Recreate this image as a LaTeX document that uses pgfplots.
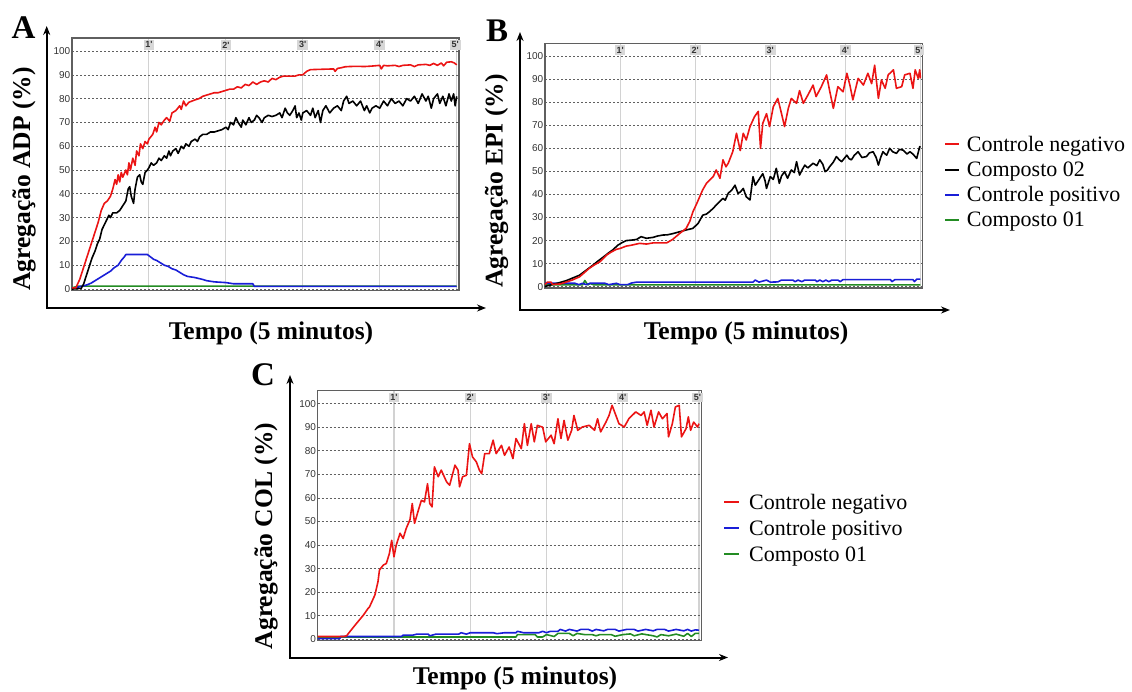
\documentclass[border=0pt]{standalone}
\usepackage{fontspec}
\setmainfont{Liberation Serif}
\newfontfamily\ticksans{Liberation Sans}
\usepackage{pgfplots}
\pgfplotsset{compat=1.18}
\usetikzlibrary{arrows.meta}

\definecolor{cred}{RGB}{235,20,20}
\definecolor{cblue}{RGB}{25,30,215}
\definecolor{cgreen}{RGB}{35,140,35}
\definecolor{cframe}{RGB}{95,95,95}
\definecolor{cbox}{RGB}{215,215,215}

\pgfplotsset{panel/.style={
  scale only axis, anchor=south west,
  xmin=0, xmax=5.03, ymin=-0.5, ymax=105.5,
  xtick={1,2,3,4,5}, xticklabels={}, ytick={0,10,...,100},
  major tick length=0pt,
  xmajorgrids, ymajorgrids,
  x grid style={gray!35, line width=1.1pt},
  y grid style={gray!75!black, line width=0.7pt, dash pattern=on 2pt off 2pt},
  axis line style={cframe, line width=1.3pt},
  yticklabel style={font=\ticksans\fontsize{10}{10}\selectfont, text=black!80, inner sep=1.5pt},
  /pgf/number format/assume math mode=true,
  clip=false,
  every axis plot/.append style={line width=1.6pt, line join=round, mark=none},
}}
\tikzset{minbox/.style={fill=cbox, inner sep=1.8pt, font=\ticksans\bfseries\fontsize{9}{9}\selectfont, text=black!80}}
\newcommand{\minlabels}{%
  \node[minbox] at (axis cs:1,102.6) {1'};
  \node[minbox] at (axis cs:2,102.6) {2'};
  \node[minbox] at (axis cs:3,102.6) {3'};
  \node[minbox] at (axis cs:4,102.6) {4'};
  \node[minbox] at (axis cs:4.98,102.6) {5'};
}

\begin{document}
\begin{tikzpicture}
\useasboundingbox (0,0) rectangle (1132pt,691pt);

% ---------------- Panel A ----------------
\begin{axis}[panel, at={(72pt,400.8pt)}, width=387pt, height=252.2pt]
\addplot[cgreen] coordinates {(0,0.5) (0.08,1.2) (5.0,1.2)};
\addplot[cblue] coordinates {(0,0.3) (0.05,0.5) (0.1,1) (0.15,1.3) (0.2,1.8) (0.25,2.5) (0.3,3.5) (0.35,4.5) (0.4,5.5) (0.45,6.5) (0.5,7.5) (0.55,9) (0.6,10) (0.64,12) (0.68,13.5) (0.7,14.5) (0.98,14.5) (1.02,13.5) (1.06,12.5) (1.1,12) (1.15,11) (1.2,10) (1.25,9.5) (1.3,8.5) (1.35,8) (1.4,7) (1.45,6) (1.5,5.3) (1.6,4.8) (1.7,4) (1.75,3.5) (1.85,3) (2.0,2.7) (2.1,2.2) (2.35,2.2) (2.37,1.1) (5.0,1.1)};
\addplot[black] coordinates {(0,0) (0.12,0.3) (0.15,2) (0.18,5) (0.22,9) (0.26,13) (0.3,16) (0.33,19) (0.36,21) (0.39,25) (0.42,27) (0.45,29) (0.48,31) (0.5,30) (0.53,32) (0.58,32) (0.62,33) (0.66,35) (0.7,37) (0.73,42) (0.75,43) (0.77,39) (0.8,36) (0.82,42) (0.85,47) (0.88,48) (0.9,45) (0.92,44) (0.95,49) (0.98,50) (1.0,51) (1.03,53) (1.06,52) (1.1,53) (1.13,55) (1.16,54) (1.2,56) (1.23,55) (1.26,58) (1.28,56) (1.31,58) (1.35,59) (1.38,57) (1.42,60) (1.45,59) (1.48,61) (1.52,60) (1.55,62) (1.6,63) (1.63,62) (1.66,64) (1.7,65) (1.75,65) (1.8,66) (1.85,66) (1.9,66.5) (1.95,67) (2.0,68) (2.03,67) (2.06,70) (2.1,69) (2.13,72) (2.16,70) (2.2,68) (2.22,71) (2.26,69) (2.3,72) (2.33,70) (2.37,71) (2.4,73) (2.43,72) (2.47,70) (2.5,72) (2.55,73) (2.6,72.5) (2.65,73) (2.7,74) (2.73,72) (2.77,76) (2.8,74) (2.83,73) (2.87,75) (2.9,77) (2.92,72) (2.95,74) (2.98,71) (3.0,74) (3.05,75) (3.1,73) (3.13,76) (3.16,72) (3.2,75) (3.23,70) (3.26,75) (3.3,77) (3.35,74) (3.4,76) (3.45,77) (3.5,75) (3.53,79) (3.57,81) (3.6,78) (3.65,79) (3.7,77) (3.75,79) (3.8,75) (3.83,77) (3.87,74) (3.9,76) (3.95,77) (4.0,76) (4.05,79) (4.1,77) (4.15,80) (4.2,78) (4.25,79) (4.3,77) (4.35,80) (4.4,79) (4.45,81) (4.5,78) (4.55,82) (4.6,79) (4.63,81) (4.67,76) (4.7,80) (4.75,82) (4.78,78) (4.82,81) (4.86,77) (4.9,82) (4.93,79) (4.96,82) (4.98,77) (5.0,81)};
\addplot[cred] coordinates {(0,0.5) (0.05,0.5) (0.1,4) (0.15,9) (0.2,14) (0.25,19) (0.3,24) (0.34,28) (0.38,33) (0.42,36) (0.46,37) (0.5,39) (0.53,42) (0.56,46) (0.58,44) (0.6,48) (0.62,45) (0.64,49) (0.66,47) (0.7,50) (0.72,48) (0.74,53) (0.76,50) (0.79,55) (0.82,52) (0.84,58) (0.87,56) (0.89,61) (0.92,59) (0.95,62) (0.98,61) (1.0,63) (1.05,65) (1.08,68) (1.1,66) (1.13,70) (1.16,69) (1.2,71) (1.23,72) (1.27,70.5) (1.3,74) (1.35,75) (1.4,77) (1.42,75.5) (1.45,79) (1.48,77) (1.52,78.5) (1.56,79) (1.6,79.5) (1.65,80) (1.7,81) (1.75,81.5) (1.8,82) (1.85,82.5) (1.9,82.5) (1.95,83) (2.0,83.5) (2.05,84) (2.1,84) (2.15,85) (2.2,84.5) (2.25,86) (2.3,85.5) (2.35,87) (2.4,86) (2.45,87) (2.5,87.5) (2.55,87) (2.6,88.5) (2.65,88) (2.7,89) (2.75,89.5) (2.8,89.5) (2.85,89.5) (2.9,89.5) (2.95,90) (3.0,90) (3.05,91.5) (3.1,92.2) (3.2,92.3) (3.3,92.4) (3.4,92.5) (3.42,91.5) (3.45,92.7) (3.5,93) (3.55,93.4) (3.6,93.5) (3.7,93.6) (3.8,93.5) (3.9,93.7) (4.0,94) (4.02,92.5) (4.05,94) (4.1,93.8) (4.2,94) (4.25,93.5) (4.3,94) (4.4,94.2) (4.45,93.5) (4.5,94.2) (4.6,94.4) (4.65,94) (4.7,94.8) (4.75,94) (4.8,95) (4.83,93.8) (4.87,95.3) (4.93,95.5) (4.97,95) (5.0,94.2)};
\minlabels
\end{axis}

% ---------------- Panel B ----------------
\begin{axis}[panel, at={(545pt,403.1pt)}, width=377.7pt, height=244.6pt]
\addplot[cgreen] coordinates {(0,0.8) (0.5,0.8) (0.53,2.7) (0.57,0.8) (0.6,1.4) (0.65,0.8) (5.0,0.8)};
\addplot[cblue] coordinates {(0,1.5) (0.4,1.5) (0.45,0.9) (0.5,1.5) (0.55,0.9) (0.6,1.5) (0.8,1.5) (0.85,0.9) (0.95,1.5) (1.0,0.9) (1.1,0.9) (1.15,1.6) (1.22,2) (2.77,2) (2.8,2.9) (2.85,2) (2.95,2.9) (3.0,2) (3.1,2.1) (3.15,2.9) (3.3,2.9) (3.33,2.2) (3.37,2.9) (3.42,2.2) (3.46,2.9) (3.6,2.9) (3.62,2.2) (3.66,2.9) (3.7,2.2) (3.74,2.9) (3.78,2.2) (3.82,2.9) (3.9,2.9) (3.93,2.2) (3.97,3.1) (4.6,3.1) (4.62,2.2) (4.66,3.1) (4.9,3.1) (4.92,2.2) (4.95,3.3) (5.0,3.3)};
\addplot[black] coordinates {(0,0) (0.02,0.3) (0.15,1.4) (0.28,2.6) (0.37,3.8) (0.46,5) (0.55,7.2) (0.64,9.4) (0.7,11) (0.77,12.7) (0.84,14.5) (0.9,15.9) (0.97,18) (1.02,19) (1.08,20) (1.15,20.2) (1.22,20.5) (1.28,21.7) (1.35,21) (1.44,21.4) (1.5,22) (1.57,22.4) (1.63,22.5) (1.7,23) (1.79,23.8) (1.88,24.6) (1.97,25.3) (2.04,27.5) (2.1,31) (2.15,31.5) (2.19,32.5) (2.24,34) (2.28,35.4) (2.33,37) (2.37,38.3) (2.4,37.5) (2.44,40.5) (2.49,42) (2.53,44) (2.57,40.5) (2.6,41) (2.64,42.6) (2.68,39) (2.73,37.6) (2.77,47.7) (2.8,44) (2.84,46) (2.9,49) (2.93,46) (2.95,42.6) (3.0,47.7) (3.04,46.5) (3.08,51.3) (3.12,44.8) (3.15,48) (3.19,49.9) (3.23,47) (3.28,50.6) (3.32,49.5) (3.35,54.2) (3.39,48.4) (3.43,51) (3.46,52.7) (3.5,51.5) (3.57,53.5) (3.62,52.5) (3.66,55) (3.7,53) (3.73,49.9) (3.76,50.5) (3.79,52) (3.84,54) (3.88,56.4) (3.92,55) (3.95,54.2) (4.02,57) (4.05,55.5) (4.08,55) (4.12,57) (4.17,58.5) (4.22,56) (4.28,56.4) (4.32,58) (4.37,58.5) (4.41,56) (4.44,52.7) (4.47,56) (4.5,58.5) (4.55,57) (4.59,60) (4.63,58.5) (4.68,57.8) (4.72,59.5) (4.77,59.2) (4.82,57.5) (4.86,58.5) (4.9,57.5) (4.95,55.6) (4.99,60.7) (5.0,60.4)};
\addplot[cred] coordinates {(0,1) (0.03,2) (0.08,2) (0.1,1) (0.2,1.2) (0.28,2) (0.37,3) (0.46,4.3) (0.52,6) (0.59,8) (0.66,9.5) (0.73,10.8) (0.82,13.7) (0.88,15) (0.95,16.2) (1.0,16.6) (1.08,17.6) (1.15,18) (1.26,18.8) (1.35,18.5) (1.44,19) (1.55,19) (1.62,19) (1.7,20.5) (1.79,23) (1.88,25.3) (1.93,28.5) (1.97,32.5) (2.02,36) (2.06,39) (2.1,42) (2.15,44.8) (2.2,46.5) (2.24,47.7) (2.28,50.6) (2.33,47) (2.37,55) (2.41,52) (2.44,53.5) (2.5,58.5) (2.55,66.5) (2.6,59) (2.64,66.5) (2.68,63.6) (2.73,69.4) (2.79,73.7) (2.84,76) (2.87,60) (2.9,70.8) (2.95,75) (2.99,69.4) (3.04,78) (3.1,81.6) (3.15,75) (3.19,69.4) (3.24,77.3) (3.28,81.6) (3.35,79.5) (3.39,85) (3.44,79.5) (3.5,83) (3.57,87.4) (3.61,82.4) (3.68,86.7) (3.75,91.8) (3.79,85) (3.84,77.3) (3.9,86.7) (3.97,84.5) (4.02,92.5) (4.06,87.4) (4.1,81) (4.17,90.3) (4.24,87.4) (4.3,92.5) (4.35,88) (4.39,96) (4.44,81.6) (4.48,89.6) (4.53,86) (4.57,91.8) (4.64,94) (4.68,86) (4.75,86.7) (4.79,91.8) (4.86,92.5) (4.9,86) (4.93,94) (4.97,90.3) (4.99,94) (5.0,90.3)};
\minlabels
\end{axis}

% ---------------- Panel C ----------------
\begin{axis}[panel, at={(317.7pt,50.5pt)}, width=383.6pt, height=249.8pt]
\addplot[cgreen] coordinates {(0,1) (2.6,1) (2.62,2) (2.85,2) (2.88,1) (2.95,1) (3.0,2) (3.1,1.2) (3.15,2.5) (3.3,2.5) (3.35,1.5) (3.4,2.5) (3.5,2) (3.6,2) (3.65,1.5) (3.7,2) (3.85,2) (3.9,1.3) (4.0,2) (4.1,2.3) (4.15,1.5) (4.25,2.3) (4.4,1.5) (4.45,1) (4.5,2) (4.6,1.5) (4.7,2.2) (4.8,1.3) (4.85,2.5) (4.9,1.2) (4.95,2.5) (5.0,2.5)};
\addplot[cblue] coordinates {(0,0.3) (0.29,0.3) (0.3,1.2) (1.1,1.2) (1.12,1.8) (1.25,1.8) (1.3,2.2) (1.45,2.2) (1.47,1.5) (1.55,2.2) (1.85,2.2) (1.88,2.8) (1.95,2.2) (2.0,2.8) (2.3,2.8) (2.35,2.4) (2.45,2.8) (2.6,2.8) (2.62,3.4) (2.7,2.8) (2.9,2.8) (2.95,3.4) (3.0,2.8) (3.05,3.4) (3.15,3.4) (3.18,4.2) (3.25,3.5) (3.3,4.2) (3.4,3.5) (3.45,4.2) (3.55,4.2) (3.6,3.5) (3.65,4.2) (3.75,3.6) (3.8,4.2) (3.9,4.2) (3.95,3.5) (4.05,4.2) (4.15,4.2) (4.2,3.5) (4.3,4.2) (4.4,3.6) (4.45,4.2) (4.55,4.2) (4.6,3.5) (4.7,4.2) (4.8,3.6) (4.85,4.2) (4.9,3.5) (4.95,4.0) (5.0,3.9)};
\addplot[cred] coordinates {(0,1.2) (0.34,1.2) (0.38,1.5) (0.42,3.2) (0.51,6.8) (0.6,10.3) (0.66,13.1) (0.68,13.8) (0.75,18.8) (0.79,24.4) (0.81,29.4) (0.86,31.5) (0.9,32.2) (0.94,36.4) (0.97,42) (1.0,35) (1.03,40) (1.08,45) (1.12,42.8) (1.16,47) (1.21,50.8) (1.24,57.6) (1.27,49.2) (1.32,54.8) (1.36,59) (1.4,58.3) (1.44,66) (1.47,57.6) (1.5,56.2) (1.53,73.2) (1.58,69) (1.62,71.8) (1.69,66.8) (1.73,65.4) (1.8,73.9) (1.84,71.8) (1.86,64.7) (1.9,69) (1.95,69.6) (1.99,83) (2.03,77.4) (2.08,75.3) (2.12,71.8) (2.15,70.3) (2.19,78.8) (2.25,78.8) (2.3,84.5) (2.34,78.8) (2.41,82.3) (2.45,78.1) (2.51,81.6) (2.56,76.7) (2.6,85.2) (2.67,80.9) (2.71,91.5) (2.75,82.3) (2.8,91.5) (2.84,83.8) (2.88,90.8) (2.95,90) (2.99,83.8) (3.06,86.6) (3.1,83) (3.15,93.6) (3.19,85.2) (3.23,92.9) (3.28,84.5) (3.33,88.7) (3.36,95) (3.41,88.7) (3.47,90.1) (3.56,90.8) (3.63,88.7) (3.67,93.6) (3.71,88) (3.78,92.2) (3.82,95) (3.86,99.3) (3.91,95) (3.95,91.5) (4.02,90.1) (4.08,93.6) (4.17,96.5) (4.24,95) (4.28,96.5) (4.32,90.8) (4.37,97.2) (4.41,90.1) (4.47,96.5) (4.52,93.6) (4.58,95.8) (4.6,85.9) (4.65,91.5) (4.69,98.6) (4.74,99.3) (4.77,85.9) (4.83,89.4) (4.86,94.4) (4.89,88.7) (4.93,92.2) (4.98,90.1) (5.0,91.5)};
\minlabels
\end{axis}

% ---------------- outer arrow axes ----------------
\draw[line width=2pt, {Stealth[length=9pt,width=7pt]}-{Stealth[length=9pt,width=7pt]}] (46.7pt,665pt) -- (46.7pt,383pt) -- (486pt,383pt);
\draw[line width=2pt, {Stealth[length=9pt,width=7pt]}-{Stealth[length=9pt,width=7pt]}] (520pt,659pt) -- (520pt,381pt) -- (950pt,381pt);
\draw[line width=2pt, {Stealth[length=9pt,width=7pt]}-{Stealth[length=9pt,width=7pt]}] (290pt,316pt) -- (290pt,33.5pt) -- (728pt,33.5pt);

% ---------------- panel letters ----------------
\node[font=\bfseries\fontsize{33}{33}\selectfont, inner sep=0pt] at (23.5pt,663.5pt) {A};
\node[font=\bfseries\fontsize{33}{33}\selectfont, inner sep=0pt] at (497pt,660pt) {B};
\node[font=\bfseries\fontsize{33}{33}\selectfont, inner sep=0pt] at (263pt,316pt) {C};

% ---------------- axis titles ----------------
\node[font=\bfseries\fontsize{25.5}{28}\selectfont, rotate=90, inner sep=0pt] at (24pt,512pt) {Agregação ADP (\%)};
\node[font=\bfseries\fontsize{25.5}{28}\selectfont, rotate=90, inner sep=0pt] at (496.5pt,510pt) {Agregação EPI (\%)};
\node[font=\bfseries\fontsize{25.5}{28}\selectfont, rotate=90, inner sep=0pt] at (266pt,155pt) {Agregação COL (\%)};
\node[font=\bfseries\fontsize{25.5}{28}\selectfont, inner sep=0pt] at (271pt,358pt) {Tempo (5 minutos)};
\node[font=\bfseries\fontsize{25.5}{28}\selectfont, inner sep=0pt] at (746pt,358pt) {Tempo (5 minutos)};
\node[font=\bfseries\fontsize{25.5}{28}\selectfont, inner sep=0pt] at (515pt,13pt) {Tempo (5 minutos)};

% ---------------- legends ----------------
\draw[cred, line width=2pt] (945pt,546.5pt) -- (959pt,546.5pt);
\node[anchor=base west, inner sep=0pt, font=\fontsize{22}{24}\selectfont] at (966.7pt,539.5pt) {Controle negativo};
\draw[black, line width=2pt] (945pt,521pt) -- (959pt,521pt);
\node[anchor=base west, inner sep=0pt, font=\fontsize{22}{24}\selectfont] at (966.7pt,514pt) {Composto 02};
\draw[cblue, line width=2pt] (945pt,496pt) -- (959pt,496pt);
\node[anchor=base west, inner sep=0pt, font=\fontsize{22}{24}\selectfont] at (966.7pt,489pt) {Controle positivo};
\draw[cgreen, line width=2pt] (945pt,471pt) -- (959pt,471pt);
\node[anchor=base west, inner sep=0pt, font=\fontsize{22}{24}\selectfont] at (966.7pt,464pt) {Composto 01};

\draw[cred, line width=2pt] (724pt,189pt) -- (739pt,189pt);
\node[anchor=base west, inner sep=0pt, font=\fontsize{22}{24}\selectfont] at (749pt,182pt) {Controle negativo};
\draw[cblue, line width=2pt] (724pt,163pt) -- (739pt,163pt);
\node[anchor=base west, inner sep=0pt, font=\fontsize{22}{24}\selectfont] at (749pt,156pt) {Controle positivo};
\draw[cgreen, line width=2pt] (724pt,137pt) -- (739pt,137pt);
\node[anchor=base west, inner sep=0pt, font=\fontsize{22}{24}\selectfont] at (749pt,130pt) {Composto 01};
\end{tikzpicture}
\end{document}
